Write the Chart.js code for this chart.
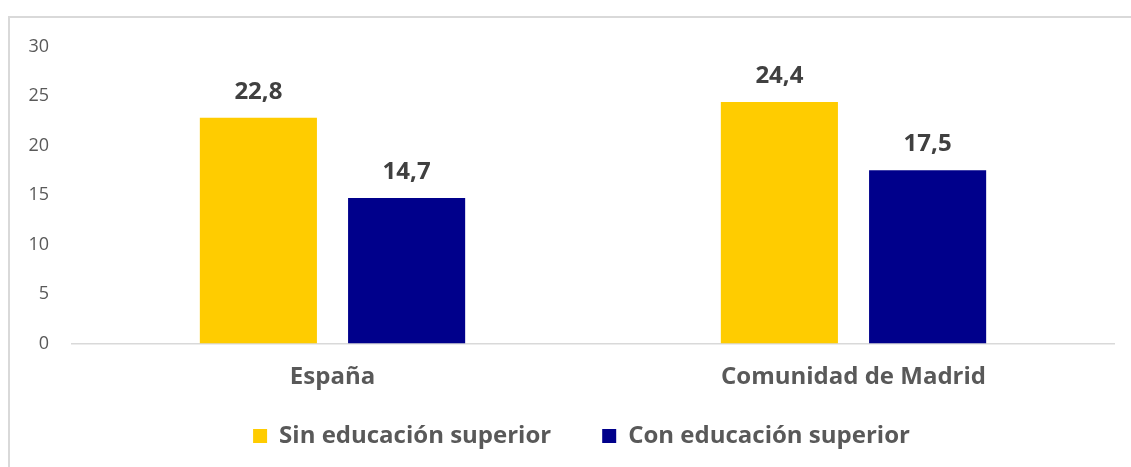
<!DOCTYPE html>
<html>
<head>
<meta charset="utf-8">
<script src="https://cdn.jsdelivr.net/npm/chart.js@4.4.1/dist/chart.umd.min.js"></script>
<style>
    html, body { margin: 0; padding: 0; background: #fff; }
    #wrap { position: relative; width: 1131px; height: 467px; overflow: hidden; }
    #frame {
        position: absolute; left: 8px; top: 16px; width: 1200px; height: 500px;
        border-top: 2px solid #d9d9d9; border-left: 2px solid #d9d9d9;
        box-sizing: border-box;
    }
    canvas { position: absolute; left: 0; top: 0; }
</style>
</head>
<body>
<div id="wrap">
    <div id="frame"></div>
    <canvas id="chart" width="1131" height="467"></canvas>
</div>
<script>
// Chart values
const categories = ['España', 'Comunidad de Madrid'];
const seriesNames = ['Sin educación superior', 'Con educación superior'];
const sinEducacion = [22.8, 24.4];
const conEducacion = [14.7, 17.5];
const seriesColors = ['#ffcc00', '#00008b'];

const labelFont = { family: '"Open Sans", sans-serif', size: 24, weight: 'bold' };

// Draws the value above each bar, with a decimal comma
const valueLabels = {
    id: 'valueLabels',
    afterDatasetsDraw(chart) {
        const ctx = chart.ctx;
        ctx.save();
        ctx.font = 'bold 24px "Open Sans", sans-serif';
        ctx.fillStyle = '#404040';
        ctx.textAlign = 'center';
        ctx.textBaseline = 'alphabetic';
        chart.data.datasets.forEach((ds, i) => {
            chart.getDatasetMeta(i).data.forEach((bar, j) => {
                const txt = ds.data[j].toFixed(1).replace('.', ',');
                ctx.fillText(txt, bar.x, bar.y - 19);
            });
        });
        ctx.restore();
    }
};

// The legend sits a bit higher and right of where the layout puts it
// (the legend clips to its own box, so the box is grown to fit the text)
const legendShift = {
    id: 'legendShift',
    afterLayout(chart) {
        const lg = chart.legend;
        const dx = 19.5, dy = -18.5;
        lg.left += dx; lg.right += dx;
        lg.top += dy;
        lg.height = 90;
        lg.bottom = lg.top + lg.height;
    }
};

new Chart(document.getElementById('chart'), {
    type: 'bar',
    data: {
        labels: categories,
        datasets: [
            { label: seriesNames[0], data: sinEducacion, backgroundColor: seriesColors[0] },
            { label: seriesNames[1], data: conEducacion, backgroundColor: seriesColors[1] }
        ]
    },
    options: {
        responsive: false,
        animation: false,
        events: [],
        categoryPercentage: 0.569,
        barPercentage: 0.79,
        layout: {
            padding: { top: 46.5, left: 10, right: 17, bottom: 15.5 }
        },
        scales: {
            x: {
                grid: { display: false, drawTicks: false },
                border: { display: true, color: '#d9d9d9', width: 1.5 },
                ticks: { color: '#595959', font: labelFont, padding: 19 },
                afterFit(scale) { scale.height = 48; }
            },
            y: {
                min: 0,
                max: 30,
                grid: { display: false, drawTicks: false },
                border: { display: false },
                ticks: {
                    stepSize: 5,
                    color: '#595959',
                    padding: 23,
                    font: { family: '"Open Sans", sans-serif', size: 18 }
                },
                afterFit(scale) { scale.width = 62; }
            }
        },
        plugins: {
            legend: {
                position: 'bottom',
                maxHeight: 60,
                labels: {
                    boxWidth: 14,
                    boxHeight: 14,
                    padding: 51,
                    color: '#595959',
                    font: labelFont
                }
            },
            tooltip: { enabled: false }
        }
    },
    plugins: [valueLabels, legendShift]
});
</script>
</body>
</html>
